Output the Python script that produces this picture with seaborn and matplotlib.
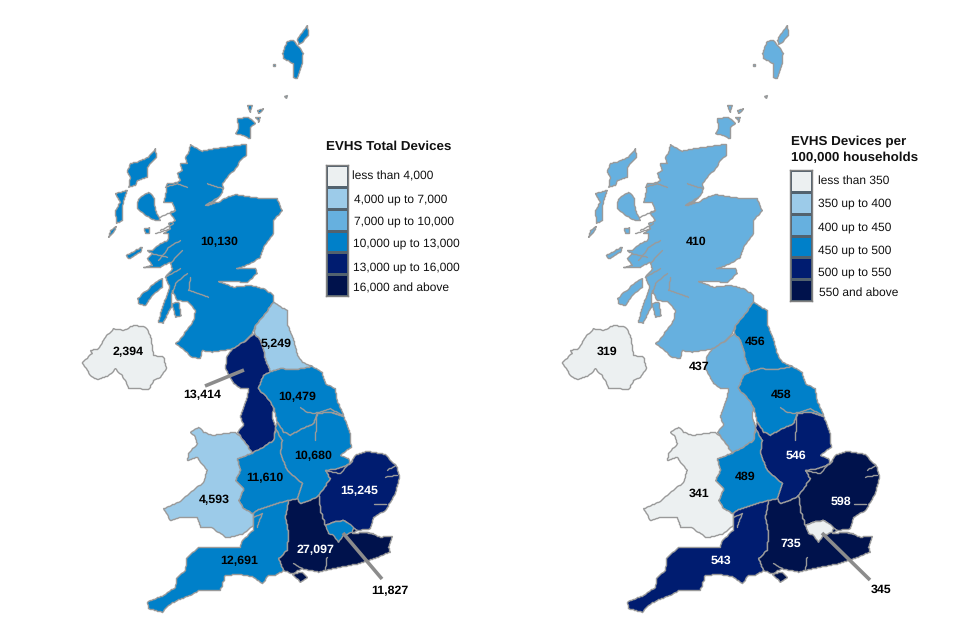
import numpy as np
import matplotlib
matplotlib.use("Agg")
import matplotlib.pyplot as plt
from matplotlib.colors import ListedColormap
from matplotlib.patches import Polygon
import seaborn as sns

# ---------- data ----------
regions = ["Scotland", "North East", "North West", "Yorkshire", "East Midlands", "West Midlands",
           "Wales", "East", "South West", "South East", "London", "Northern Ireland"]
total_devices = [10130, 5249, 13414, 10479, 10680, 11610, 4593, 15245, 12691, 27097, 11827, 2394]
per_100k = [410, 456, 437, 458, 546, 489, 341, 598, 543, 735, 345, 319]
total_bins = [4000, 7000, 10000, 13000, 16000]
per_bins = [350, 400, 450, 500, 550]
total_legend = ["less than 4,000", "4,000 up to 7,000", "7,000 up to 10,000",
                "10,000 up to 13,000", "13,000 up to 16,000", "16,000 and above"]
per_legend = ["less than 350", "350 up to 400", "400 up to 450",
              "450 up to 500", "500 up to 550", "550 and above"]
colors = ["#ECF0F1", "#9CCBE9", "#66B0DF", "#0080C9", "#001C70", "#00124C"]

# ---------- outline geometry, in map units ----------
Z1 = 840  # Scotland was traced with this vertical shift
scot = [(330,372),(350,385),(365,392),(400,385),(470,375),(497,372),(497,405),(480,420),(465,445),(440,470),
        (425,490),(430,505),(420,525),(400,545),(378,555),(415,545),(440,530),(465,522),(520,532),(590,535),
        (605,570),(580,600),(578,640),(550,680),(540,710),(510,730),(468,745),(525,745),(530,760),(500,785),
        (415,783),(460,800),(510,795),(550,805),(580,825),
        (578,845),(555,880),(525,915),(515,940),(490,965),(455,985),(430,990),(395,995),(365,990),(360,1015),
        (335,1010),(305,985),(285,970),(300,955),(340,900),(345,870),(325,845),(290,840),(275,810),(272,860),
        (248,908),(233,905),(250,850),(268,800),(255,770),(275,745),(270,725),(235,742),(190,742),(215,735),
        (200,715),(215,700),(200,690),(215,690),(225,680),(240,670),(262,660),(265,640),(250,640),(270,625),
        (265,610),(285,600),(270,580),(285,570),(275,545),(250,545),(255,530),(260,490),(280,490),(300,480),
        (290,460),(305,450),(300,430),(320,430),(315,410),(325,395)]
scot_isles = [
    [(607,100),(620,62),(640,60),(660,85),(668,100),(665,130),(650,175),(638,170),(640,130),(610,115)],
    [(650,60),(665,35),(680,15),(685,45),(665,65),(655,72)],
    [(576,128),(583,128),(583,135),(576,135)],
    [(613,228),(620,226),(618,233)],
    [(470,295),(505,290),(525,310),(510,320),(510,355),(490,345),(465,340),(475,320)],
    [(500,255),(515,255),(510,275)],
    [(530,270),(550,265),(535,280)],
    [(525,290),(540,290),(535,305)],
    [(150,430),(170,425),(205,410),(225,385),(228,410),(200,440),(200,470),(170,480),(165,495),(145,500),(150,470),(140,455)],
    [(105,520),(140,510),(130,540),(125,570),(125,600),(108,610),(105,570),(120,545),(110,530)],
    [(90,630),(108,618),(100,635),(85,650)],
    [(170,545),(180,530),(205,515),(220,530),(225,570),(240,600),(215,598),(185,575),(170,565)],
    [(192,625),(208,622),(208,638),(195,640)],
    [(137,705),(185,680),(180,695),(145,715)],
    [(172,835),(190,815),(200,810),(225,785),(245,775),(245,800),(215,825),(195,855),(175,850)],
    [(275,850),(295,845),(302,885),(285,890)],
]
scot_inlets = [[(320,760),(285,790),(275,820)], [(330,770),(325,810),(385,830)], [(300,660),(265,680),(235,720)],
               [(305,690),(270,730)], [(283,570),(240,590)], [(280,610),(240,630)], [(270,625),(225,640)],
               [(320,500),(290,490),(255,500)], [(380,490),(430,505)], [(375,555),(415,530)],
               [(300,745),(255,770)], [(215,700),(260,710)]]
ne = [(578,5),(620,30),(622,75),(640,120),(650,160),(665,185),(695,198),(650,207),(600,205),(570,213),
      (555,180),(550,150),(540,120),(522,100),(525,75),(555,40)]
nw = [(522,100),(540,120),(550,150),(555,180),(570,213),(550,225),(533,265),(555,285),(580,320),(575,350),
      (585,380),(580,420),(540,445),(515,458),(490,420),(470,395),(490,375),(480,350),(490,320),(500,290),
      (505,265),(480,265),(460,250),(435,205),(440,165),(455,145),(490,125)]
yorks = [(570,213),(600,205),(650,207),(695,198),(725,215),(735,250),(765,265),(770,300),(790,345),(750,335),
         (710,340),(700,370),(665,385),(630,405),(610,395),(590,365),(580,320),(555,285),(533,265),(550,225)]
em = [(590,365),(610,395),(630,405),(665,385),(700,370),(710,340),(750,335),(790,348),(810,400),(812,440),
      (780,465),(805,475),(810,490),(770,505),(735,510),(750,535),(715,585),(690,600),(660,610),(650,595),
      (665,550),(620,510),(600,460),(605,420),(585,385)]
wm = [(515,458),(540,445),(580,420),(585,385),(605,420),(600,460),(620,510),(665,550),(650,595),(625,600),
      (570,615),(530,630),(518,640),(490,625),(475,600),(490,565),(465,540),(480,510),(470,475)]
wales = [(330,395),(355,380),(370,395),(395,405),(465,395),(490,420),(515,458),(470,475),(480,510),(465,540),
         (490,565),(475,600),(490,625),(518,640),(518,675),(490,700),(440,712),(390,680),(360,680),(350,650),
         (300,650),(270,660),(250,625),(295,605),(320,585),(370,545),(380,510),(350,470),(320,480),(325,460),
         (350,430),(345,410)]
east = [(735,510),(770,505),(810,490),(825,465),(860,452),(915,462),(950,500),(957,530),(945,580),(915,630),
        (880,650),(870,685),(830,690),(815,680),(790,660),(760,665),(735,675),(720,630),(715,585),(750,535)]
sw = [(518,640),(530,630),(570,615),(625,600),(615,650),(625,700),(620,750),(595,775),(610,810),(585,825),
      (565,825),(545,850),(520,830),(480,822),(435,825),(420,870),(380,870),(355,870),(340,880),(290,900),(265,915),
      (245,935),(205,925),(200,905),(250,885),(285,860),(290,830),(315,810),(320,770),(355,740),(480,740),(485,720),(518,690)]
se = [(625,600),(650,595),(660,610),(690,600),(715,585),(720,630),(735,675),(760,665),(790,660),(815,680),
      (830,690),(815,700),(860,695),(900,710),(935,708),(925,740),(930,755),(880,775),(835,790),(780,800),
      (735,810),(715,815),(665,805),(635,820),(610,810),(595,775),(620,750),(625,700),(615,650)]
wight = [(635,822),(665,815),(682,830),(660,845)]
london = [(735,675),(760,665),(790,660),(820,680),(815,695),(790,705),(775,725),(760,705),(745,700)]
ni = [(5,185),(35,160),(30,150),(55,145),(75,110),(100,85),(130,90),(160,75),(195,80),(210,105),(215,135),
      (220,165),(250,170),(258,205),(240,230),(220,240),(205,268),(175,265),(145,265),(135,240),(125,225),
      (105,205),(85,225),(50,238),(30,225)]
shapes = {
    "Scotland": [[(x, y - Z1) for x, y in scot]] + [[(x, y - Z1) for x, y in s] for s in scot_isles],
    "North East": [ne], "North West": [nw], "Yorkshire": [yorks], "East Midlands": [em],
    "West Midlands": [wm], "Wales": [wales], "East": [east], "South West": [sw],
    "South East": [se, wight], "London": [london], "Northern Ireland": [ni],
}
inlets = [[(680,335),(700,340),(750,325),(790,345)], [(660,320),(680,335)], [(710,340),(705,420)],
          [(920,510),(945,495)], [(915,530),(950,525)], [(880,610),(915,610)], [(840,695),(880,700)],
          [(520,650),(545,640),(530,680)], [(735,810),(740,770)], [(640,790),(665,805)],
          [(735,510),(780,520),(815,480)]]
inlets += [[(x, y - Z1) for x, y in line] for line in scot_inlets]

# ---------- drawing ----------
sns.set_theme(style="white")
plt.rcParams["font.family"] = ["Liberation Sans", "DejaVu Sans"]
plt.rcParams["text.hinting"] = "no_hinting"
palette = sns.color_palette(colors)
EDGE = "#9A9A9A"
W, H = 960, 640

fig = plt.figure(figsize=(9.6, 6.4), dpi=100, facecolor="white")
ax = fig.add_axes([0, 0, 1, 1])
ax.set_xlim(0, W)
ax.set_ylim(H, 0)
ax.axis("off")


def to_px(points, dx, closed=True):
    """Map units to picture pixels, stepped on the pixel grid like the source raster."""
    pts = np.array([(80 + x / 3 + dx, 300 + y / 3) for x, y in points], dtype=float)
    if closed:
        pts = np.vstack([pts, pts[:1]])
    out = []
    for a, b in zip(pts[:-1], pts[1:]):
        n = max(int(np.hypot(*(b - a)) / 1.5), 1)
        for t in np.arange(n) / n:
            out.append(np.round(a + (b - a) * t) + 0.5)
    out.append(np.round(pts[-1]) + 0.5)
    return np.array(out)


def draw_map(values, bins, dx):
    for name, value in zip(regions, values):
        face = palette[int(np.digitize(value, bins))]
        for part in shapes[name]:
            ax.add_patch(Polygon(to_px(part, dx), closed=True, facecolor=face, edgecolor=EDGE,
                                 linewidth=1.0, joinstyle="miter", zorder=2))
    for line in inlets:
        xy = to_px(line, dx, closed=False)
        ax.plot(xy[:, 0], xy[:, 1], color=EDGE, lw=1.0, zorder=3)


def draw_legend(title_lines, labels, title_x, title_y, rect, text_xy):
    for i, line in enumerate(title_lines):
        ax.text(title_x, title_y + i * 16, line, fontsize=9.6, fontweight="bold", color="#111111",
                ha="left", va="center", zorder=5)
    x0, y0, w, h = rect
    inset = fig.add_axes([x0 / W, 1 - (y0 + h) / H, w / W, h / H])
    sns.heatmap(np.arange(6)[:, None], ax=inset, cmap=ListedColormap(palette), cbar=False,
                xticklabels=False, yticklabels=False, linewidths=0.8, linecolor="#52626E",
                vmin=-0.5, vmax=5.5)
    for spine in inset.spines.values():
        spine.set_visible(True)
        spine.set_color("#808080")
        spine.set_linewidth(1.0)
    for (tx, ty), label in zip(text_xy, labels):
        ax.text(tx, ty, label, fontsize=8.64, color="#111111", ha="left", va="center", zorder=5)


draw_map(total_devices, total_bins, 0)
draw_map(per_100k, per_bins, 480)

# value labels
left_pos = [(219,242),(276,344),(202,395),(297,397),(313,456),(265,478),(214,500),(359,491),(239,561),(316,550),(390,591),(128,352)]
right_pos = [(696,242),(755,342),(699,367),(781,395),(796,456),(745,477),(699,494),(841,502),(721,561),(791,544),(881,590),(607,352)]
for values, pos, bins in ((total_devices, left_pos, total_bins), (per_100k, right_pos, per_bins)):
    for value, (x, y), name in zip(values, pos, regions):
        idx = int(np.digitize(value, bins))
        white = idx >= 4 and name not in ("North West", "London")
        if values is total_devices and name == "South West":
            white = False
        ax.text(x, y, f"{value:,}", fontsize=8.9, fontweight="bold", ha="center", va="center",
                color="white" if white else "black", zorder=6)

# leader lines
for (x1, y1), (x2, y2) in [((244, 370), (205, 386)), ((343, 533), (382, 579)), ((822, 533), (870, 580))]:
    ax.plot([x1, x2], [y1, y2], color="#8C8C8C", lw=2.6, solid_capstyle="butt", zorder=5)

draw_legend(["EVHS Total Devices"], total_legend, 326, 147, (326, 165, 22, 131),
            [(352, 176), (354, 199), (354, 221), (353, 243), (353, 267), (353, 288)])
draw_legend(["EVHS Devices per", "100,000 households"], per_legend, 791, 142, (790, 170, 22, 131),
            [(818, 181), (818, 203), (818, 227), (818, 250), (818, 272), (819, 293)])

fig.savefig("out.png", dpi=100, facecolor="white")
